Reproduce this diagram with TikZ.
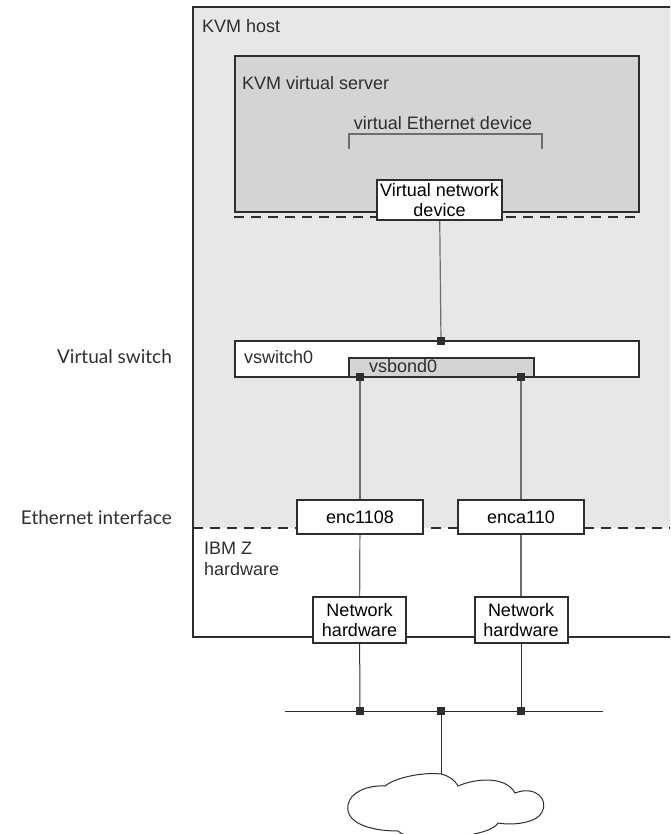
\documentclass[tikz,border=0pt]{standalone}
\usepackage{fontspec}
\setmainfont{Liberation Sans}
\newfontfamily\notefont{Lato}
\usetikzlibrary{positioning}
\definecolor{hostgray}{HTML}{E6E7E8}
\definecolor{servergray}{HTML}{D3D4D6}
\definecolor{framegray}{HTML}{2E2E2E}
\definecolor{wiregray}{HTML}{6E6E6E}

\begin{document}
\begin{tikzpicture}[x=1pt, y=-1pt,
  box/.style={rectangle, draw=framegray, line width=2pt, fill=white, align=center, inner sep=2pt, font=\fontsize{18}{20}\selectfont},
  tag/.style={inner sep=0pt, font=\fontsize{18}{20}\selectfont, text=framegray},
  sidetag/.style={inner sep=0pt, anchor=east, font=\notefont\fontsize{19}{21}\selectfont, text=framegray},
  port/.style={rectangle, fill=framegray, minimum size=8pt, inner sep=0pt},
  wire/.style={draw=wiregray, line width=1.2pt},
  divider/.style={draw=framegray, line width=2pt, dash pattern=on 10pt off 7pt}]
\useasboundingbox (0,0) rectangle (670,834);
\clip (0,0) rectangle (670,834);

% KVM host area, open to the right
\fill[hostgray] (193,7) rectangle (700,528);
\draw[divider] (193,528) -- (700,528);
\draw[framegray, line width=2pt] (700,7) -- (193,7) -- (193,637) -- (700,637);
\node[tag, anchor=west] (hosttag) at (202,26) {KVM host};
\node[tag, anchor=west, align=left, font=\fontsize{18}{21}\selectfont] (ibmtag) at (204,559) {IBM Z\\hardware};

% Virtual server
\node[rectangle, draw=framegray, line width=2pt, fill=servergray, minimum width=404pt, minimum height=156pt] (server) at (437,134) {};
\draw[divider] (server.south west) ++(0,4) -- ++(404,0);
\node[tag, anchor=west] (servertag) at (242,83) {KVM virtual server};
\node[tag] (ethtag) at (443,123) {virtual Ethernet device};
\draw[wiregray, line width=1.2pt] (349,149) -- (349,134) -- (542,134) -- (542,149);
\node[box, minimum width=125pt, minimum height=40pt] (vnd) at (439.5,200) {Virtual network\\device};

% Virtual switch and bond
\node[rectangle, draw=framegray, line width=2pt, fill=white, minimum width=404pt, minimum height=36pt] (vswitch) at (437,359) {};
\node[tag, anchor=west] (vswitchtag) at (244,357) {vswitch0};
\node[rectangle, draw=framegray, line width=2pt, fill=servergray, minimum width=185pt, minimum height=19pt] (vsbond) at (441.5,367.5) {};
\node[tag, anchor=west] (vsbondtag) at (369,366) {vsbond0};
\node[port] (p0) at (441,341) {};
\node[port] (pl) at (360,377) {};
\node[port] (pr) at (521,377) {};

% Ethernet interfaces and network hardware
\node[box, minimum width=126pt, minimum height=34pt] (enc1) at (360,517) {enc1108};
\node[box, minimum width=126pt, minimum height=34pt] (enc2) at (521,517) {enca110};
\node[box, minimum width=93pt, minimum height=46pt] (nh1) at (359.5,620) {Network\\hardware};
\node[box, minimum width=93pt, minimum height=46pt] (nh2) at (521,620) {Network\\hardware};

% LAN bus and cloud
\coordinate (busl) at (285,711);
\coordinate (busr) at (603,711);
\coordinate (cloudtop) at (441,774);
\draw[framegray, line width=1pt] (busl) -- (busr);
\node[port] (b1) at (360,711) {};
\node[port] (b2) at (441,711) {};
\node[port] (b3) at (521,711) {};
\draw[framegray, line width=1pt, fill=white]
  (385,786) .. controls (396,777) and (424,772) .. (cloudtop)
  .. controls (449,776) and (455,780) .. (458,786)
  .. controls (476,778) and (506,776) .. (515,793)
  .. controls (536,785) and (549,800) .. (542,812)
  .. controls (538,822) and (515,826) .. (498,823)
  .. controls (490,838) and (410,844) .. (398,831)
  .. controls (368,831) and (345,822) .. (348,805)
  .. controls (350,792) and (368,785) .. (385,786) -- cycle;

% Connectors
\draw[wire] (vnd) -- (p0);
\draw[wire] (pl) -- (enc1);
\draw[wire] (pr) -- (enc2);
\draw[wire] (enc1) -- (nh1);
\draw[wire] (enc2) -- (nh2);
\draw[framegray, line width=1pt] (nh1) -- (b1);
\draw[framegray, line width=1pt] (nh2) -- (b3);
\draw[framegray, line width=1pt] (b2) -- (cloudtop);

% Side labels
\node[sidetag] (switchside) at (172,357) {Virtual switch};
\node[sidetag] (ethside) at (172,518) {Ethernet interface};
\end{tikzpicture}
\end{document}
